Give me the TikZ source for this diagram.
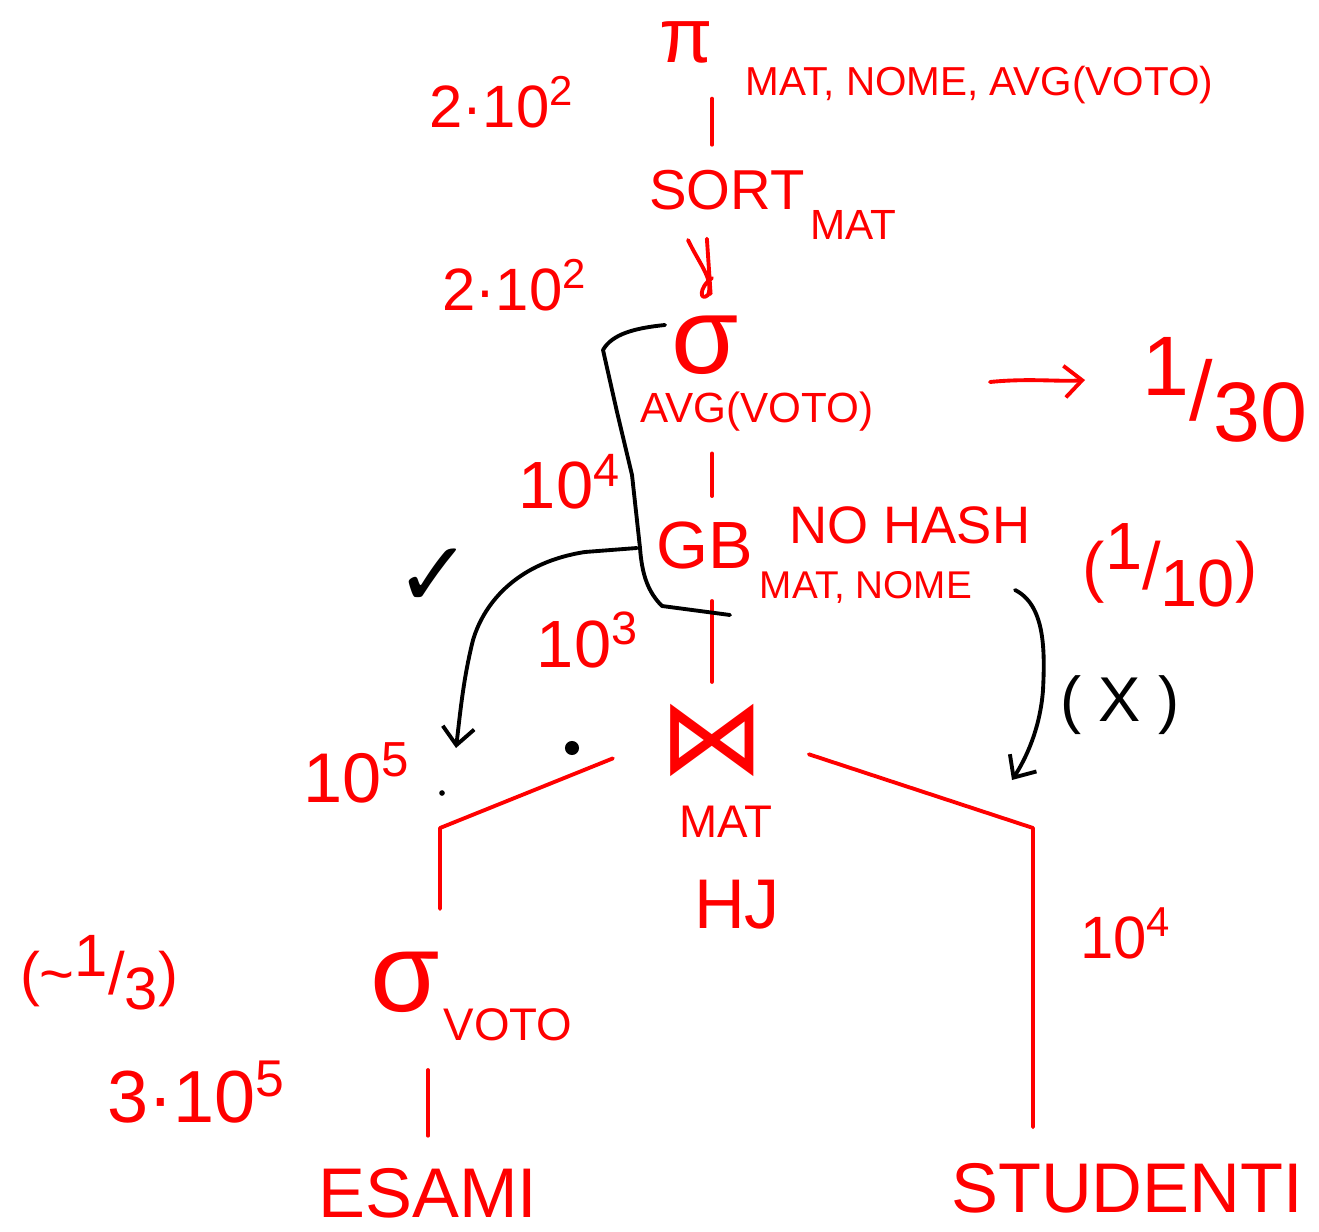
\documentclass[tikz,border=0pt]{standalone}
\usepackage{fontspec}
\setmainfont{Liberation Sans}
\newfontfamily\symfont{DejaVu Sans}
\usetikzlibrary{arrows.meta}

\newcommand{\fsz}[1]{\fontsize{#1}{#1}\selectfont}
\newcommand{\pow}[2]{#1\textsuperscript{#2}}
\newcommand{\hfrac}[2]{\raisebox{0.3em}{#1}/\raisebox{-0.25em}{#2}}

\begin{document}
\begin{tikzpicture}[x=0.01cm, y=-0.01cm, >={Straight Barb[length=5pt,width=9pt]},
  op/.style={text=red, inner sep=0pt},
  note/.style={text=black, inner sep=0pt},
  edge/.style={red, line width=1.1pt, line cap=round, line join=round},
  pen/.style={black, line width=1.1pt, line cap=round, line join=round}]
\useasboundingbox (0,0) rectangle (1319,1231);

% operators of the plan
\node[op, font=\fsz{22}] (pi) at (686,42) {π};
\node[op, font=\fsz{11.5}, anchor=west] (pisub) at (745,85) {MAT, NOME, AVG(VOTO)};
\node[op, font=\fsz{16}] (sort) at (727,190) {SORT};
\node[op, font=\fsz{12}, anchor=west] (sortsub) at (810,225) {MAT};
\node[op, font=\fsz{31}] (sel) at (705,345) {σ};
\node[op, font=\fsz{12}] (selsub) at (757,412) {AVG(VOTO)};
\node[op, font=\fsz{19}] (gb) at (705,545) {GB};
\node[op, font=\fsz{15}] (nohash) at (910,525) {NO HASH};
\node[op, font=\fsz{11}] (gbsub) at (866,587) {MAT, NOME};
\node[op, font=\symfont\fsz{30}] (join) at (712,740) {⋈};
\node[op, font=\fsz{13}] (joinsub) at (726,822) {MAT};
\node[op, font=\fsz{20}] (hj) at (737,905) {HJ};
\node[op, font=\fsz{32}] (selvoto) at (405,982) {σ};
\node[op, font=\fsz{13}, anchor=west] (selvotosub) at (443,1025) {VOTO};
\node[op, font=\fsz{20}] (esami) at (428,1193) {ESAMI};
\node[op, font=\fsz{20}] (studenti) at (1127,1188) {STUDENTI};

% cardinalities and factors
\node[op, font=\fsz{17}] (card1) at (502,102) {2·\pow{10}{2}};
\node[op, font=\fsz{17}] (card2) at (515,285) {2·\pow{10}{2}};
\node[op, font=\fsz{19}] (card3) at (570,482) {\pow{10}{4}};
\node[op, font=\fsz{19}] (card4) at (588,640) {\pow{10}{3}};
\node[op, font=\fsz{20}] (card5) at (357,773) {\pow{10}{5}};
\node[op, font=\fsz{17}] (card6) at (1126,933) {\pow{10}{4}};
\node[op, font=\fsz{21}] (card7) at (197,1092) {3·\pow{10}{5}};
\node[op, font=\fsz{24}] (fsel) at (1225,390) {\hfrac{1}{30}};
\node[op, font=\fsz{19}] (fgb) at (1170,565) {(\hfrac{1}{10})};
\node[op, font=\fsz{17}] (fvoto) at (99,973) {(\textasciitilde\hfrac{1}{3})};

% black notes
\node[note, font=\symfont\fsz{26}] (tick) at (434,578) {✓};
\node[note, font=\fsz{18}] (cross) at (1120,705) {( X )};

% plan edges
\coordinate (lcorner) at (440,828);
\coordinate (rcorner) at (1033,828);
\draw[edge, shorten <=10pt, shorten >=7pt] (pi.south -| join) -- (sort.north -| join);
\draw[edge, shorten <=8pt, shorten >=6pt] (sort.south -| sel) -- (sel.north -| join);
\draw[edge] (688,240) .. controls (700,265) and (714,280) .. (708,295) .. controls (700,302) and (698,288) .. (712,278);
\draw[edge, shorten <=6pt, shorten >=7pt] (selsub.south -| join) -- (gb.north -| join);
\draw[edge, shorten <=9pt, shorten >=6pt] (gb.south -| join) -- (join.north);
\draw[edge, shorten <=14pt, shorten >=12pt] (join.west) -- (lcorner) -- (lcorner |- selvoto.north);
\draw[edge, shorten <=13pt, shorten >=10pt] (join.east) -- (rcorner) -- (rcorner |- studenti.north);
\draw[edge, shorten <=8pt, shorten >=9pt] (esami.north |- selvotosub.south) -- (esami.north);
\draw[edge, ->] (990,382) .. controls (1030,378) and (1060,382) .. (1085,380);

% black strokes
\draw[pen] (730,615) -- (662,606) .. controls (648,592) and (642,575) .. (640,548)
  -- (632,475) -- (617,412) -- (603,350) .. controls (612,334) and (635,328) .. (665,325);
\draw[pen, ->] (637,548) -- (585,552) .. controls (520,562) and (485,600) .. (473,640)
  .. controls (463,680) and (460,715) .. (456,748);
\draw[pen, ->] (1015,590) .. controls (1045,605) and (1045,650) .. (1043,690)
  .. controls (1040,730) and (1025,760) .. (1012,780);
\fill (572,748) circle (2pt);
\fill (442,793) circle (0.8pt);
\end{tikzpicture}
\end{document}
